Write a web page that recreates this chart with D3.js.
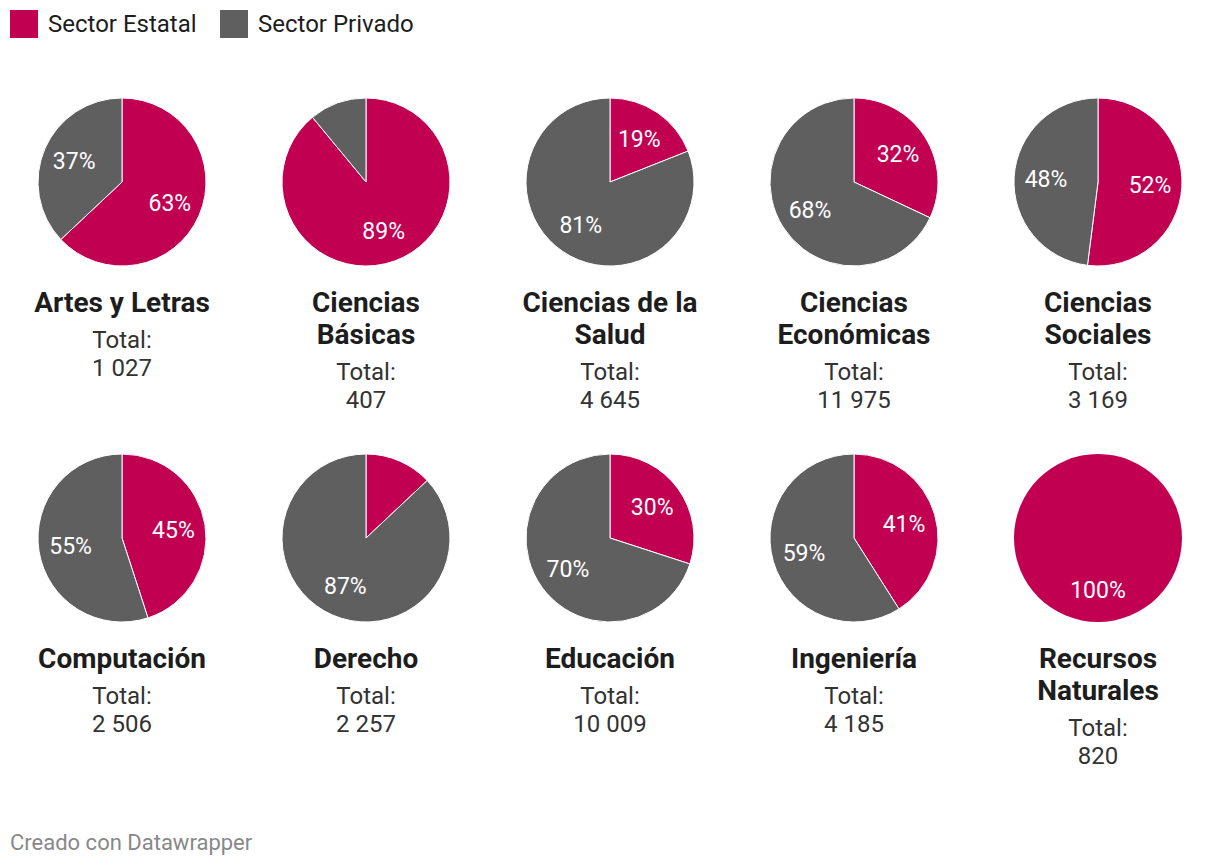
<!DOCTYPE html>
<html>
<head>
<meta charset="utf-8">
<script src="https://cdn.jsdelivr.net/npm/d3@7"></script>
<style>
  body { margin: 0; background: #fff; font-family: Roboto, sans-serif; }
</style>
</head>
<body>
<svg id="chart" width="1220" height="866"></svg>
<script>
// data
const categories = ["Artes y Letras", "Ciencias Básicas", "Ciencias de la Salud", "Ciencias Económicas", "Ciencias Sociales",
  "Computación", "Derecho", "Educación", "Ingeniería", "Recursos Naturales"];
const titleLines = [["Artes y Letras"], ["Ciencias", "Básicas"], ["Ciencias de la", "Salud"], ["Ciencias", "Económicas"], ["Ciencias", "Sociales"],
  ["Computación"], ["Derecho"], ["Educación"], ["Ingeniería"], ["Recursos", "Naturales"]];
const estatal = [63, 89, 19, 32, 52, 45, 13, 30, 41, 100];
const privado = [37, 11, 81, 68, 48, 55, 87, 70, 59, 0];
const totals = ["1 027", "407", "4 645", "11 975", "3 169", "2 506", "2 257", "10 009", "4 185", "820"];
const seriesNames = ["Sector Estatal", "Sector Privado"];

const colors = ["#c20052", "#5f5f5f"];
const svg = d3.select("#chart");

// legend
const legend = svg.append("g");
const legendX = [10, 220];
seriesNames.forEach((name, i) => {
  legend.append("rect")
    .attr("x", legendX[i]).attr("y", 10)
    .attr("width", 28).attr("height", 28)
    .attr("fill", colors[i]);
  legend.append("text")
    .attr("x", legendX[i] + 38).attr("y", 24)
    .attr("dy", "0.35em")
    .style("font-size", "24px")
    .style("fill", "#1d1d1d")
    .text(name);
});

const R = 84;
const colX = d3.scalePoint().domain(d3.range(5)).range([122, 1098]);
const rowY = d3.scalePoint().domain([0, 1]).range([182, 538]);

const pie = d3.pie().sort(null).value(d => d);
const arc = d3.arc().innerRadius(0).outerRadius(R);
const labelArc = d3.arc().innerRadius(R * 0.62).outerRadius(R * 0.62);

categories.forEach((cat, i) => {
  const g = svg.append("g")
    .attr("transform", `translate(${colX(i % 5)},${rowY(Math.floor(i / 5))})`);
  const vals = [estatal[i], privado[i]];
  const slices = pie(vals);

  g.selectAll("path")
    .data(slices.filter(d => d.value > 0))
    .enter().append("path")
    .attr("d", arc)
    .attr("fill", d => colors[d.index])
    .attr("stroke", "#fff")
    .attr("stroke-width", vals.some(v => v === 0) ? 0 : 1);

  // small slices get no label
  g.selectAll("text.pct")
    .data(slices.filter(d => d.value >= 15))
    .enter().append("text")
    .attr("class", "pct")
    .attr("transform", d => {
      if (d.value === 100) return `translate(0,${R * 0.62})`;
      return `translate(${labelArc.centroid(d)})`;
    })
    .attr("text-anchor", "middle")
    .attr("dy", "0.35em")
    .style("font-size", "23px")
    .style("fill", "#fff")
    .text(d => d.value + "%");

  // titles
  const lines = titleLines[i];
  lines.forEach((ln, j) => {
    g.append("text")
      .attr("x", 0).attr("y", 121 + j * 32)
      .attr("dy", "0.33em")
      .attr("text-anchor", "middle")
      .style("font-size", "28px")
      .style("font-weight", "bold")
      .style("fill", "#1d1d1d")
      .text(ln);
  });
  const base = 121 + (lines.length - 1) * 32;
  g.append("text")
    .attr("x", 0).attr("y", base + 37)
    .attr("dy", "0.35em")
    .attr("text-anchor", "middle")
    .style("font-size", "24px")
    .style("fill", "#333")
    .text("Total:");
  g.append("text")
    .attr("x", 0).attr("y", base + 65)
    .attr("dy", "0.35em")
    .attr("text-anchor", "middle")
    .style("font-size", "24px")
    .style("fill", "#333")
    .text(totals[i]);
});

// footer
svg.append("text")
  .attr("x", 10).attr("y", 842)
  .attr("dy", "0.35em")
  .style("font-size", "22px")
  .style("fill", "#888")
  .text("Creado con Datawrapper");
</script>
</body>
</html>
